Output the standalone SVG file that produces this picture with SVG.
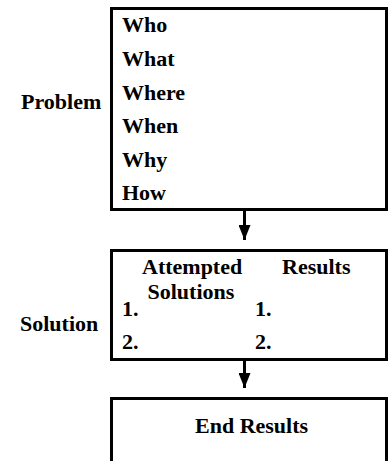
<svg xmlns="http://www.w3.org/2000/svg" width="388" height="461" viewBox="0 0 388 461">
<style>
.box{fill:#fff;stroke:#000;stroke-width:3}
.t{font-family:"Liberation Serif","Times New Roman",serif;font-weight:bold;font-size:22px;fill:#000}
.conn{stroke:#000;stroke-width:3;fill:none}
</style>
<defs>
<marker id="ah" viewBox="0 0 15 12" refX="15" refY="6" markerWidth="15" markerHeight="12" markerUnits="userSpaceOnUse" orient="auto">
<path d="M0,0 L15,6 L0,12 z" fill="#000"/>
</marker>
</defs>
<rect width="388" height="461" fill="#fff"/>
<g id="connectors">
<line class="conn" x1="244.5" y1="211" x2="244.5" y2="240" marker-end="url(#ah)"/>
<line class="conn" x1="244.5" y1="361" x2="244.5" y2="388" marker-end="url(#ah)"/>
</g>
<g id="problem">
<text class="t" x="21" y="109">Problem</text>
<rect class="box" x="111.5" y="8.5" width="275" height="201"/>
<text class="t" x="122" y="32">Who</text>
<text class="t" x="122" y="66">What</text>
<text class="t" x="122" y="100">Where</text>
<text class="t" x="122" y="133">When</text>
<text class="t" x="122" y="167">Why</text>
<text class="t" x="122" y="200">How</text>
</g>
<g id="solution">
<text class="t" x="20" y="331">Solution</text>
<rect class="box" x="111.5" y="250.5" width="275" height="109"/>
<text class="t" x="142" y="274">Attempted</text>
<text class="t" x="147.5" y="298.5">Solutions</text>
<text class="t" x="282" y="274">Results</text>
<text class="t" x="122" y="316">1.</text>
<text class="t" x="122" y="349">2.</text>
<text class="t" x="255" y="316">1.</text>
<text class="t" x="255" y="349">2.</text>
</g>
<g id="end-results">
<rect class="box" x="111.5" y="398.5" width="275" height="80"/>
<text class="t" x="195" y="433">End Results</text>
</g>
</svg>
